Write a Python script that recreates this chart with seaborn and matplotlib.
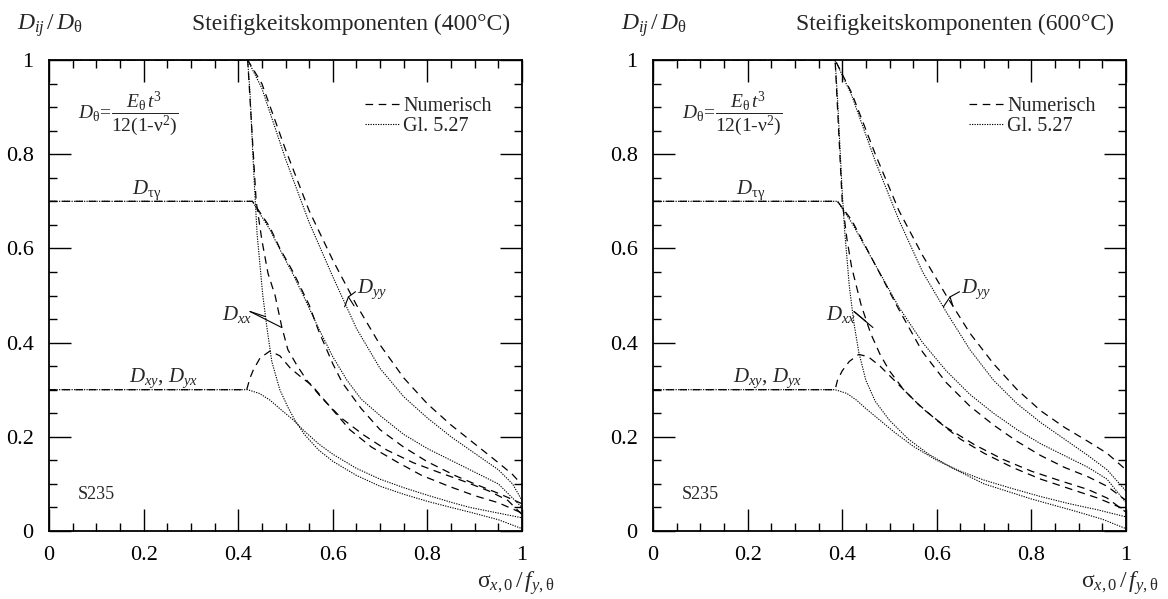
import matplotlib
matplotlib.use("Agg")
import matplotlib.pyplot as plt
from matplotlib.lines import Line2D
import seaborn as sns

# ---------------------------------------------------------------- data
# 400 °C : numerical (Numerisch) and Gl. 5.27
x400_dyy_num = [0, 0.42, 0.45, 0.50, 0.55, 0.60, 0.65, 0.70, 0.75, 0.80, 0.85, 0.90, 0.95, 0.98, 1.0]
y400_dyy_num = [1.0, 1.0, 0.95, 0.81, 0.68, 0.575, 0.48, 0.395, 0.325, 0.27, 0.225, 0.185, 0.145, 0.12, 0.098]
x400_dyy_gl = [0, 0.42, 0.45, 0.50, 0.55, 0.60, 0.65, 0.70, 0.75, 0.80, 0.85, 0.90, 0.95, 0.98, 1.0]
y400_dyy_gl = [1.0, 1.0, 0.94, 0.79, 0.655, 0.54, 0.43, 0.345, 0.285, 0.24, 0.20, 0.165, 0.13, 0.10, 0.065]

x400_dtg_num = [0, 0.43, 0.447, 0.467, 0.488, 0.516, 0.55, 0.57, 0.60, 0.62, 0.66, 0.70, 0.75, 0.80, 0.86, 0.90, 0.95, 1.0]
y400_dtg_num = [0.7, 0.7, 0.675, 0.645, 0.60, 0.55, 0.48, 0.425, 0.355, 0.315, 0.26, 0.215, 0.178, 0.147, 0.117, 0.10, 0.08, 0.058]
x400_dtg_gl = [0, 0.43, 0.447, 0.467, 0.488, 0.516, 0.54, 0.57, 0.60, 0.63, 0.66, 0.70, 0.75, 0.80, 0.85, 0.90, 0.95, 1.0]
y400_dtg_gl = [0.7, 0.7, 0.672, 0.64, 0.598, 0.545, 0.495, 0.43, 0.37, 0.32, 0.28, 0.245, 0.205, 0.175, 0.15, 0.125, 0.10, 0.05]

x400_dxx_num = [0, 0.42, 0.432, 0.438, 0.45, 0.463, 0.478, 0.492, 0.505, 0.524, 0.545, 0.577, 0.619, 0.665, 0.714, 0.77, 0.823, 0.876, 0.93, 0.97, 1.0]
y400_dxx_num = [1.0, 1.0, 0.80, 0.70, 0.618, 0.547, 0.50, 0.434, 0.385, 0.352, 0.32, 0.282, 0.239, 0.204, 0.172, 0.145, 0.125, 0.106, 0.085, 0.065, 0.035]
x400_dxx_gl = [0, 0.42, 0.425, 0.43, 0.435, 0.44, 0.452, 0.461, 0.471, 0.488, 0.505, 0.52, 0.54, 0.57, 0.60, 0.65, 0.70, 0.75, 0.80, 0.85, 0.89, 0.95, 1.0]
y400_dxx_gl = [1.0, 1.0, 0.93, 0.82, 0.72, 0.63, 0.50, 0.43, 0.36, 0.30, 0.263, 0.235, 0.205, 0.172, 0.148, 0.118, 0.095, 0.078, 0.063, 0.05, 0.04, 0.024, 0.005]

x400_dxy_num = [0, 0.418, 0.425, 0.432, 0.446, 0.467, 0.488, 0.51, 0.535, 0.555, 0.594, 0.636, 0.682, 0.735, 0.788, 0.848, 0.90, 0.95, 1.0]
y400_dxy_num = [0.3, 0.3, 0.325, 0.342, 0.367, 0.382, 0.372, 0.346, 0.325, 0.31, 0.264, 0.215, 0.178, 0.147, 0.118, 0.094, 0.075, 0.06, 0.038]
x400_dxy_gl = [0, 0.42, 0.445, 0.467, 0.49, 0.516, 0.54, 0.57, 0.60, 0.65, 0.70, 0.75, 0.80, 0.85, 0.89, 0.95, 1.0]
y400_dxy_gl = [0.3, 0.3, 0.292, 0.278, 0.258, 0.236, 0.212, 0.185, 0.163, 0.133, 0.11, 0.092, 0.076, 0.061, 0.05, 0.038, 0.028]

# 600 °C
x600_dyy_num = [0, 0.385, 0.42, 0.47, 0.52, 0.57, 0.62, 0.67, 0.72, 0.77, 0.82, 0.87, 0.92, 0.96, 1.0]
y600_dyy_num = [1.0, 1.0, 0.93, 0.80, 0.68, 0.585, 0.50, 0.42, 0.355, 0.30, 0.255, 0.22, 0.19, 0.165, 0.13]
x600_dyy_gl = [0, 0.385, 0.42, 0.47, 0.52, 0.57, 0.62, 0.67, 0.72, 0.77, 0.82, 0.87, 0.92, 0.96, 1.0]
y600_dyy_gl = [1.0, 1.0, 0.925, 0.785, 0.66, 0.55, 0.465, 0.385, 0.32, 0.27, 0.23, 0.195, 0.16, 0.13, 0.085]

x600_dtg_num = [0, 0.39, 0.42, 0.47, 0.52, 0.57, 0.62, 0.67, 0.72, 0.77, 0.82, 0.87, 0.92, 0.96, 1.0]
y600_dtg_num = [0.7, 0.7, 0.66, 0.565, 0.47, 0.38, 0.315, 0.265, 0.225, 0.19, 0.16, 0.135, 0.115, 0.095, 0.065]
x600_dtg_gl = [0, 0.39, 0.42, 0.47, 0.52, 0.57, 0.62, 0.67, 0.72, 0.77, 0.82, 0.87, 0.92, 0.96, 1.0]
y600_dtg_gl = [0.7, 0.7, 0.655, 0.565, 0.475, 0.40, 0.34, 0.29, 0.25, 0.215, 0.185, 0.16, 0.135, 0.11, 0.06]

x600_dxx_num = [0, 0.385, 0.395, 0.40, 0.41, 0.42, 0.44, 0.46, 0.48, 0.50, 0.53, 0.57, 0.62, 0.68, 0.74, 0.80, 0.86, 0.92, 0.96, 1.0]
y600_dxx_num = [1.0, 1.0, 0.80, 0.70, 0.62, 0.56, 0.48, 0.42, 0.375, 0.34, 0.30, 0.26, 0.22, 0.183, 0.152, 0.127, 0.107, 0.088, 0.07, 0.04]
x600_dxx_gl = [0, 0.385, 0.39, 0.395, 0.40, 0.405, 0.415, 0.425, 0.435, 0.45, 0.47, 0.50, 0.54, 0.58, 0.63, 0.70, 0.80, 0.90, 0.95, 1.0]
y600_dxx_gl = [1.0, 1.0, 0.92, 0.82, 0.72, 0.64, 0.52, 0.44, 0.38, 0.32, 0.275, 0.235, 0.195, 0.165, 0.135, 0.10, 0.068, 0.04, 0.025, 0.005]

x600_dxy_num = [0, 0.385, 0.39, 0.40, 0.415, 0.435, 0.455, 0.48, 0.50, 0.52, 0.56, 0.60, 0.65, 0.70, 0.76, 0.82, 0.88, 0.94, 1.0]
y600_dxy_num = [0.3, 0.3, 0.32, 0.34, 0.36, 0.375, 0.37, 0.35, 0.33, 0.31, 0.27, 0.235, 0.195, 0.165, 0.135, 0.11, 0.09, 0.07, 0.045]
x600_dxy_gl = [0, 0.385, 0.41, 0.43, 0.45, 0.48, 0.51, 0.55, 0.60, 0.65, 0.70, 0.76, 0.82, 0.88, 0.94, 1.0]
y600_dxy_gl = [0.3, 0.3, 0.292, 0.278, 0.26, 0.235, 0.21, 0.18, 0.15, 0.127, 0.108, 0.09, 0.073, 0.058, 0.045, 0.03]

tick_values = [0, 0.2, 0.4, 0.6, 0.8, 1.0]
tick_labels = ["0", "0.2", "0.4", "0.6", "0.8", "1"]
panel_titles = ["Steifigkeitskomponenten (400°C)", "Steifigkeitskomponenten (600°C)"]
legend_labels = ["Numerisch", "Gl. 5.27"]

# ---------------------------------------------------------------- style
sns.set_theme(style="ticks")
plt.rcParams["font.family"] = ["Liberation Serif", "DejaVu Serif"]
plt.rcParams["mathtext.fontset"] = "custom"
plt.rcParams["mathtext.rm"] = "Liberation Serif"
plt.rcParams["mathtext.it"] = "Liberation Serif:italic"
plt.rcParams["mathtext.bf"] = "Liberation Serif:bold"
plt.rcParams["lines.scale_dashes"] = False

DASHED = dict(linestyle=(0, (5.5, 4.0)), linewidth=0.9)
DOTTED = dict(linestyle=(0, (0.9, 0.9)), linewidth=0.8)

fig = plt.figure(figsize=(11.68, 5.99), dpi=100)
W, H = 1168, 599
ax_w, ax_h = 473 / W, 471 / H
ax_b = 68 / H
ax_left = fig.add_axes([49 / W, ax_b, ax_w, ax_h])
ax_right = fig.add_axes([653 / W, ax_b, ax_w, ax_h])


def curve(ax, x, y, style):
    sns.lineplot(x=x, y=y, ax=ax, color="black", estimator=None, sort=False,
                 legend=False, **style)


def leader(ax, xs, ys):
    ax.plot(xs, ys, color="black", linewidth=0.8)


panels = [
    (ax_left,
     [(x400_dyy_num, y400_dyy_num), (x400_dtg_num, y400_dtg_num),
      (x400_dxx_num, y400_dxx_num), (x400_dxy_num, y400_dxy_num)],
     [(x400_dyy_gl, y400_dyy_gl), (x400_dtg_gl, y400_dtg_gl),
      (x400_dxx_gl, y400_dxx_gl), (x400_dxy_gl, y400_dxy_gl)]),
    (ax_right,
     [(x600_dyy_num, y600_dyy_num), (x600_dtg_num, y600_dtg_num),
      (x600_dxx_num, y600_dxx_num), (x600_dxy_num, y600_dxy_num)],
     [(x600_dyy_gl, y600_dyy_gl), (x600_dtg_gl, y600_dtg_gl),
      (x600_dxx_gl, y600_dxx_gl), (x600_dxy_gl, y600_dxy_gl)]),
]

for i, (ax, num_curves, gl_curves) in enumerate(panels):
    for x, y in num_curves:
        curve(ax, x, y, DASHED)
    for x, y in gl_curves:
        curve(ax, x, y, DOTTED)

    ax.set_xlim(0, 1)
    ax.set_ylim(0, 1)
    ax.set_xticks(tick_values)
    ax.set_xticklabels(tick_labels)
    ax.set_yticks(tick_values)
    ax.set_yticklabels(tick_labels)
    ax.set_xticks([v / 20 for v in range(21)], minor=True)
    ax.set_yticks([v / 20 for v in range(21)], minor=True)
    ax.tick_params(which="both", direction="in", top=True, right=True,
                   color="black", width=1.0)
    ax.tick_params(which="major", length=16, pad=11, labelsize=16,
                   labelcolor="black")
    ax.tick_params(which="minor", length=5.5)
    for sp in ax.spines.values():
        sp.set_visible(True)
        sp.set_color("black")
        sp.set_linewidth(1.3)
    ax.set_xlabel("")
    ax.set_ylabel("")
    ax.set_facecolor("white")

    # curve labels
    ax.text(0.175, 0.715, r"$D_{\mathrm{\tau\gamma}}$", fontsize=15, ha="left", va="baseline")
    ax.text(0.17, 0.316, r"$D_{xy}$, $D_{yx}$", fontsize=15, ha="left", va="baseline")
    ax.text(0.366, 0.448, r"$D_{xx}$", fontsize=15, ha="left", va="baseline")
    ax.text(0.651, 0.505, r"$D_{yy}$", fontsize=15, ha="left", va="baseline")
    ax.text(0.06, 0.068, "S235", fontsize=13, ha="left", va="baseline")
    ax.text(0.061, 0.885,
            r"$D_{\mathrm{\theta}}\!=\!\dfrac{E_{\mathrm{\theta}}\,t^{3}}{12(1\text{-}\mathrm{\nu}^{2})}$",
            fontsize=14, ha="left", va="center")

    # axis captions
    ax.text(0.987, -0.110, r"$\mathrm{\sigma}_{x,\mathrm{0}}\,/\,f_{y,\mathrm{\theta}}$",
            fontsize=17, ha="center", va="center", transform=ax.transAxes, clip_on=False)

    # legend
    handles = [Line2D([], [], color="black", **DASHED),
               Line2D([], [], color="black", **DOTTED)]
    ax.legend(handles, legend_labels, loc="upper left", bbox_to_anchor=(0.668, 0.922),
              frameon=False, fontsize=14.5, handlelength=1.75, handletextpad=0.15,
              labelspacing=0.05, borderpad=0, borderaxespad=0)

# leader lines to the curve labels
leader(ax_left, [0.425, 0.458], [0.466, 0.455])
leader(ax_left, [0.425, 0.492], [0.466, 0.432])
leader(ax_left, [0.648, 0.633, 0.625], [0.508, 0.497, 0.476])
leader(ax_left, [0.633, 0.645], [0.497, 0.478])

leader(ax_right, [0.425, 0.45], [0.466, 0.445])
leader(ax_right, [0.425, 0.465], [0.466, 0.432])
leader(ax_right, [0.648, 0.628, 0.614], [0.508, 0.497, 0.476])
leader(ax_right, [0.628, 0.634], [0.497, 0.478])

# header texts
for left_px, title, title_px in [(17, panel_titles[0], 192), (621, panel_titles[1], 796)]:
    fig.text(left_px / W, 1 - 30 / H, r"$D_{ij}\,/\,D_{\mathrm{\theta}}$", fontsize=17,
             ha="left", va="baseline")
    fig.text(title_px / W, 1 - 30 / H, title, fontsize=17, ha="left", va="baseline")

fig.savefig("out.png", dpi=100, facecolor="white")
